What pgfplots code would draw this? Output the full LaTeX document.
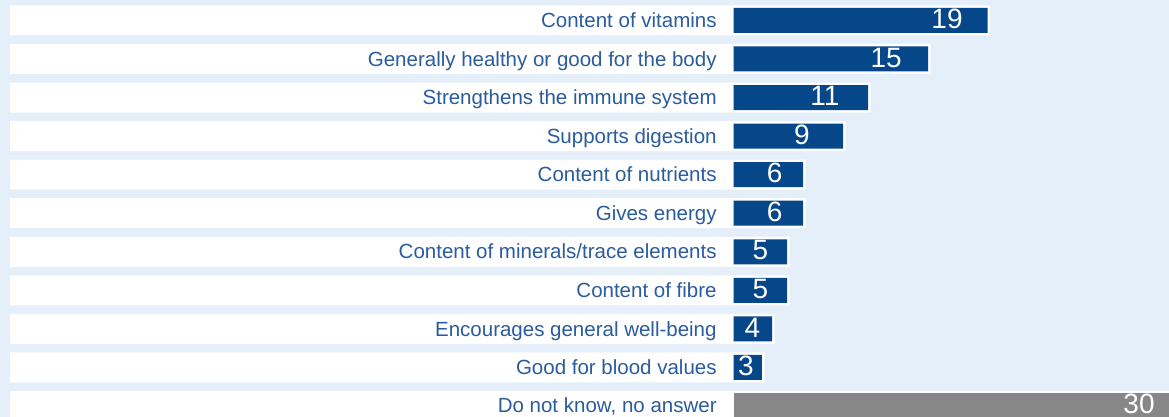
\documentclass[border=0pt]{standalone}
\usepackage{fontspec}
\setmainfont{Liberation Sans}
\usepackage{pgfplots}
\usepackage{pgfplotstable}
\pgfplotsset{compat=1.18}
\definecolor{bgblue}{RGB}{229,239,249}
\definecolor{barblue}{RGB}{6,71,138}
\definecolor{labblue}{RGB}{42,92,158}
\definecolor{bargray}{RGB}{135,135,135}

% y = row centre (pixels from top), val = shown value, len = drawn bar length,
% labx = position of the value label, wl/wr = white row strip left/right ends, lx = category label right edge
\pgfplotstableread[col sep=semicolon]{
y;val;len;labx;wl;wr;lx;name
20.5;19;19.0;15.97;-54.11;19.19;-1.234;Content of vitamins
59.0;15;14.55;11.41;-54.11;14.74;-1.234;Generally healthy or good for the body
97.6;11;10.06;6.84;-54.11;10.25;-1.234;Strengthens the immune system
136.1;9;8.19;5.12;-54.11;8.38;-1.234;Supports digestion
174.7;6;5.2;3.07;-54.11;5.39;-1.234;Content of nutrients
213.2;6;5.2;3.07;-54.11;5.39;-1.234;Gives energy
251.8;5;4.0;2.02;-54.11;4.19;-1.234;Content of minerals/trace elements
290.3;5;4.0;2.02;-54.11;4.19;-1.234;Content of fibre
328.9;4;2.88;1.42;-54.11;3.07;-1.234;Encourages general well-being
367.4;3;2.13;0.93;-54.11;2.32;-1.234;Good for blood values
}\bluetable

\pgfplotstableread[col sep=semicolon]{
y;val;len;labx;wl;wr;lx;name
405.8;30;33.0;30.33;-54.11;33.5;-1.234;Do not know, no answer
}\graytable

\begin{document}
\begin{tikzpicture}
\begin{axis}[
  scale only axis, width=584.5pt, height=208.5pt,
  xmin=-54.86, xmax=32.57, ymin=0, ymax=417, y dir=reverse,
  axis line style={draw=none}, xtick=\empty, ytick=\empty,
  axis background/.style={fill=bgblue},
]
% white row strips
\addplot[xbar, bar width=15pt, bar shift=0pt, fill=white, draw=none] table[x=wl,y=y]{\bluetable};
\addplot[xbar, bar width=15pt, bar shift=0pt, fill=white, draw=none] table[x=wr,y=y]{\bluetable};
\addplot[xbar, bar width=15pt, bar shift=0pt, fill=white, draw=none] table[x=wl,y=y]{\graytable};
\addplot[xbar, bar width=15pt, bar shift=0pt, fill=white, draw=none] table[x=wr,y=y]{\graytable};
% bars
\addplot[xbar, bar width=12.5pt, bar shift=0pt, fill=barblue, draw=none] table[x=len,y=y]{\bluetable};
\addplot[xbar, bar width=12.5pt, bar shift=0pt, fill=bargray, draw=none] table[x=len,y=y]{\graytable};
% category labels
\addplot[draw=none, nodes near coords, point meta=explicit symbolic,
  nodes near coords align={anchor=east},
  every node near coord/.append style={anchor=east, inner sep=0pt, text height=0.716em, text depth=0pt,
    font=\fontsize{10.25}{12}\selectfont, text=labblue}]
  table[x=lx,y=y,meta=name]{\bluetable};
\addplot[draw=none, nodes near coords, point meta=explicit symbolic,
  nodes near coords align={anchor=east},
  every node near coord/.append style={anchor=east, inner sep=0pt, text height=0.716em, text depth=0pt,
    font=\fontsize{10.25}{12}\selectfont, text=labblue}]
  table[x=lx,y=y,meta=name]{\graytable};
% values
\addplot[draw=none, nodes near coords, point meta=explicit symbolic,
  nodes near coords align={anchor=center},
  every node near coord/.append style={anchor=center, inner sep=0pt, text height=0.716em, text depth=0pt,
    yshift=-0.5pt, font=\fontsize{14}{16}\selectfont, text=white}]
  table[x=labx,y=y,meta=val]{\bluetable};
\addplot[draw=none, nodes near coords, point meta=explicit symbolic,
  nodes near coords align={anchor=center},
  every node near coord/.append style={anchor=center, inner sep=0pt, text height=0.716em, text depth=0pt,
    yshift=-0.5pt, font=\fontsize{14}{16}\selectfont, text=white}]
  table[x=labx,y=y,meta=val]{\graytable};
\end{axis}
\end{tikzpicture}
\end{document}
